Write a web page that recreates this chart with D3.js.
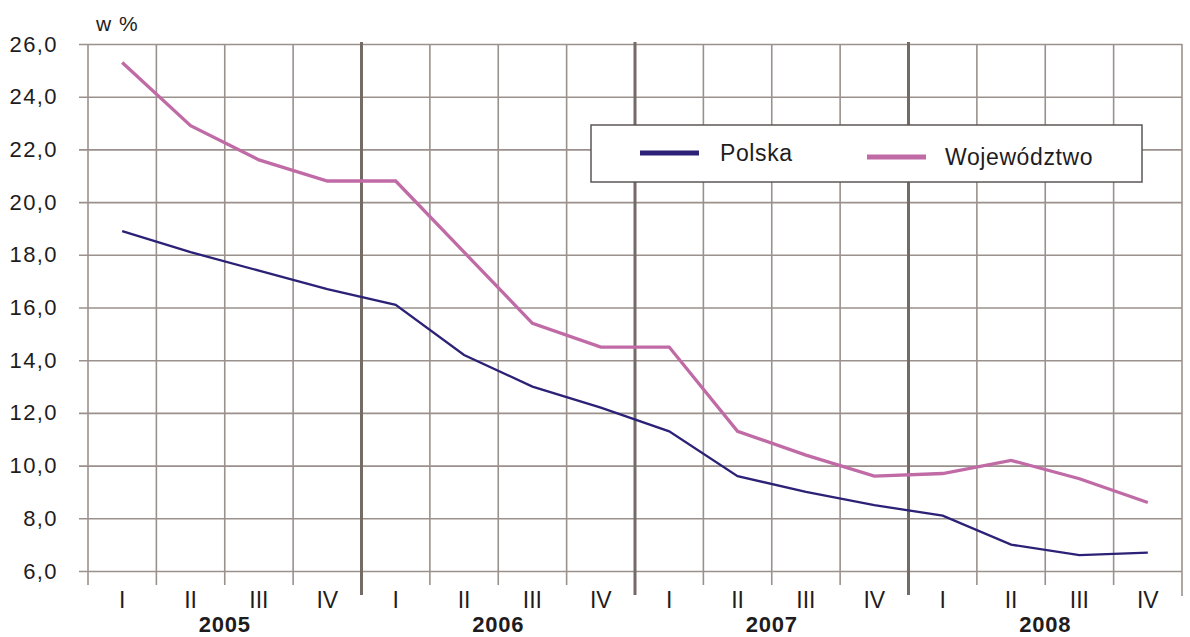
<!DOCTYPE html>
<html>
<head>
<meta charset="utf-8">
<script src="https://cdn.jsdelivr.net/npm/d3@7"></script>
<style>
  body { margin: 0; background: #fff; }
  text { font-family: "Liberation Sans", Arial, sans-serif; fill: #1f1c1d; }
</style>
</head>
<body>
<div id="chart"></div>
<script>
// data (stopa bezrobocia, w %)
var years = ["2005", "2006", "2007", "2008"];
var quarters = ["I", "II", "III", "IV"];
var polska = [18.9, 18.1, 17.4, 16.7, 16.1, 14.2, 13.0, 12.2, 11.3, 9.6, 9.0, 8.5, 8.1, 7.0, 6.6, 6.7];
var wojewodztwo = [25.3, 22.9, 21.6, 20.8, 20.8, 18.1, 15.4, 14.5, 14.5, 11.3, 10.4, 9.6, 9.7, 10.2, 9.5, 8.6];
var yTicks = [6, 8, 10, 12, 14, 16, 18, 20, 22, 24, 26];

(function() {
  var width = 1190,
      height = 637;

  var left = 88, right = 1182, top = 44, bottom = 571;

  var svg = d3.select("#chart")
    .append("svg")
    .attr("width", width)
    .attr("height", height)

  // one slot per quarter
  var periods = [];
  years.forEach(function(yr) {
    quarters.forEach(function(q) {
      periods.push({ year: yr, q: q, key: yr + "-" + q });
    })
  })

  var x = d3.scaleBand()
    .domain(periods.map(function(d) { return d.key; }))
    .range([left, right])
    .padding(0)

  var y = d3.scaleLinear()
    .domain([6, 26])
    .range([bottom, top])

  var fmt = function(v) { return d3.format(".1f")(v).replace(".", ","); }

  //horizontal grid + labels
  var yAxis = d3.axisLeft(y)
    .tickValues(yTicks)
    .tickSize(-(right - 79))
    .tickPadding(21)
    .tickFormat(fmt)

  var gy = svg.append("g")
    .attr("transform", "translate(79,0)")
    .call(yAxis)
  gy.select(".domain").remove()
  gy.selectAll(".tick line")
    .attr("stroke", "#9a918d")
    .attr("stroke-width", 1.6)
  gy.selectAll(".tick text")
    .attr("font-size", 22)
    .attr("letter-spacing", "1.4px")
    .attr("fill", "#1f1c1d")
    .attr("font-family", "Liberation Sans, Arial, sans-serif")

  //vertical grid, thicker between years
  var bounds = periods.map(function(d, i) { return i; }).concat([periods.length]);
  svg.append("g").selectAll("line")
    .data(bounds)
    .enter().append("line")
    .attr("x1", function(i) { return i < periods.length ? x(periods[i].key) : right; })
    .attr("x2", function(i) { return i < periods.length ? x(periods[i].key) : right; })
    .attr("y1", function(i) { return (i % 4 === 0 && i > 0 && i < 16) ? top - 2 : top; })
    .attr("y2", function(i) {
      if (i === 16) return 596;
      return (i % 4 === 0 && i > 0) ? 595 : 585;
    })
    .attr("stroke", function(i) { return (i % 4 === 0 && i > 0 && i < 16) ? "#746a66" : "#9a918d"; })
    .attr("stroke-width", function(i) { return (i % 4 === 0 && i > 0 && i < 16) ? 3 : 1.6; })

  // unit label
  svg.append("text")
    .attr("x", 96)
    .attr("y", 31)
    .attr("font-size", 21)
    .attr("letter-spacing", "1px")
    .text("w %")

  //quarter labels
  svg.append("g").selectAll("text")
    .data(periods)
    .enter().append("text")
    .attr("x", function(d) { return x(d.key) + x.bandwidth() / 2; })
    .attr("y", 608)
    .attr("text-anchor", "middle")
    .attr("font-size", 23)
    .text(function(d) { return d.q; })

  //year labels
  svg.append("g").selectAll("text")
    .data(years)
    .enter().append("text")
    .attr("x", function(yr) {
      return x(yr + "-I") + x.bandwidth() * 2;
    })
    .attr("y", 632)
    .attr("text-anchor", "middle")
    .attr("font-size", 22)
    .attr("font-weight", "bold")
    .attr("letter-spacing", "0.8px")
    .text(function(yr) { return yr; })

  var line = d3.line()
    .x(function(d, i) { return x(periods[i].key) + x.bandwidth() / 2; })
    .y(function(d) { return y(d); })

  svg.append("path")
    .datum(polska)
    .attr("d", line)
    .attr("fill", "none")
    .attr("stroke", "#2b2176")
    .attr("stroke-width", 2.3)

  svg.append("path")
    .datum(wojewodztwo)
    .attr("d", line)
    .attr("fill", "none")
    .attr("stroke", "#c06aa6")
    .attr("stroke-width", 3.3)

  //legend box
  var legend = svg.append("g")
  legend.append("rect")
    .attr("x", 591)
    .attr("y", 125)
    .attr("width", 551)
    .attr("height", 57)
    .attr("fill", "#fff")
    .attr("stroke", "#5b5756")
    .attr("stroke-width", 1.5)

  var items = [
    { name: "Polska", color: "#2b2176", x: 640, y: 153, tx: 720 },
    { name: "Województwo", color: "#c06aa6", x: 867, y: 157, tx: 945 }
  ];
  legend.selectAll(".sw")
    .data(items)
    .enter().append("line")
    .attr("class", "sw")
    .attr("x1", function(d) { return d.x; })
    .attr("x2", function(d) { return d.x + 59; })
    .attr("y1", function(d) { return d.y; })
    .attr("y2", function(d) { return d.y; })
    .attr("stroke", function(d) { return d.color; })
    .attr("stroke-width", 5)
  legend.selectAll(".lt")
    .data(items)
    .enter().append("text")
    .attr("class", "lt")
    .attr("x", function(d) { return d.tx; })
    .attr("y", function(d) { return d.y + 8; })
    .attr("font-size", 23)
    .attr("letter-spacing", "0.6px")
    .text(function(d) { return d.name; })

})();
</script>
</body>
</html>
